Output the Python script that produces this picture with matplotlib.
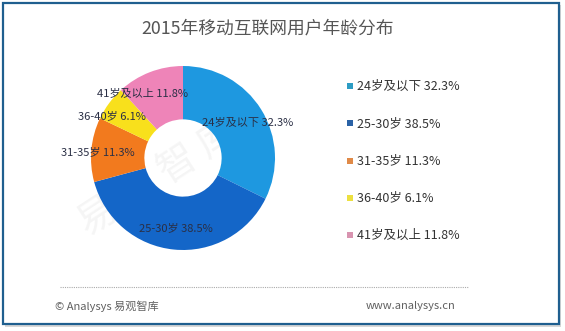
import matplotlib.pyplot as plt
from matplotlib.patches import Rectangle

plt.rcParams['font.family'] = ['Noto Sans CJK SC', 'DejaVu Sans']

# Données
categories = ['24岁及以下', '25-30岁', '31-35岁', '36-40岁', '41岁及以上']
values = [32.3, 38.5, 11.3, 6.1, 11.8]
colors = ['#1e98e0', '#1466c8', '#f27a1e', '#f8e01c', '#ee84b8']
legend_colors = ['#2c9cc4', '#2a62a6', '#e08a48', '#ece040', '#d894b0']
title = '2015年移动互联网用户年龄分布'

W, H = 565, 331
fig = plt.figure(figsize=(W / 100, H / 100), dpi=100)
fig.patch.set_facecolor('white')

# Cadre bleu avec ombre
bg = fig.add_axes([0, 0, 1, 1])
bg.set_xlim(0, W)
bg.set_ylim(H, 0)
bg.axis('off')
bg.add_patch(Rectangle((5, 5), 556, 322, facecolor='#d8d8d8', edgecolor='none'))
bg.add_patch(Rectangle((2.5, 2.5), 556, 321, facecolor='white', edgecolor='#1f5f8f', lw=1.6))

# Titre
bg.text(268, 29, title, ha='center', va='center', fontsize=12.8, color='#555555')

# Donut
cx, cy, R = 183, 158, 92
ax = fig.add_axes([(cx - R) / W, (H - cy - R) / H, 2 * R / W, 2 * R / H])
wedges, _ = ax.pie(values, colors=colors, startangle=90, counterclock=False,
                   radius=1.0, wedgeprops=dict(width=0.58, edgecolor='none'))
ax.set_xlim(-1, 1)
ax.set_ylim(-1, 1)
ax.set_aspect('auto')
ax.axis('off')

# Étiquettes sur l'anneau
label_pos = [(0.70, 0.38), (-0.08, -0.76), (-0.93, 0.06), (-0.77, 0.46), (-0.44, 0.71)]
for name, v, (x, y) in zip(categories, values, label_pos):
    ax.text(x, y, f'{name} {v}%', ha='center', va='center', fontsize=8, color='#2a2f45')

# Filigrane
bg.text(158, 178, '易 观 智 库', rotation=33, ha='center', va='center',
        fontsize=28, color='#c8c8c8', alpha=0.18)

# Légende
for i, (name, v, c) in enumerate(zip(categories, values, legend_colors)):
    y = 86 + i * 37.3
    bg.add_patch(Rectangle((346.5, y - 3), 6, 6, facecolor=c, edgecolor='none'))
    bg.text(357, y, f'{name} {v}%', ha='left', va='center', fontsize=9, color='#333333')

# Pied de page
bg.plot([60, 468], [287, 287], ls=(0, (1, 1)), color='#aaaaaa', lw=0.8)
bg.text(55, 306, '© Analysys 易观智库', ha='left', va='center', fontsize=8, color='#606060')
bg.text(455, 306, 'www.analysys.cn', ha='right', va='center', fontsize=8, color='#606060')

fig.savefig('out.png', dpi=100)
